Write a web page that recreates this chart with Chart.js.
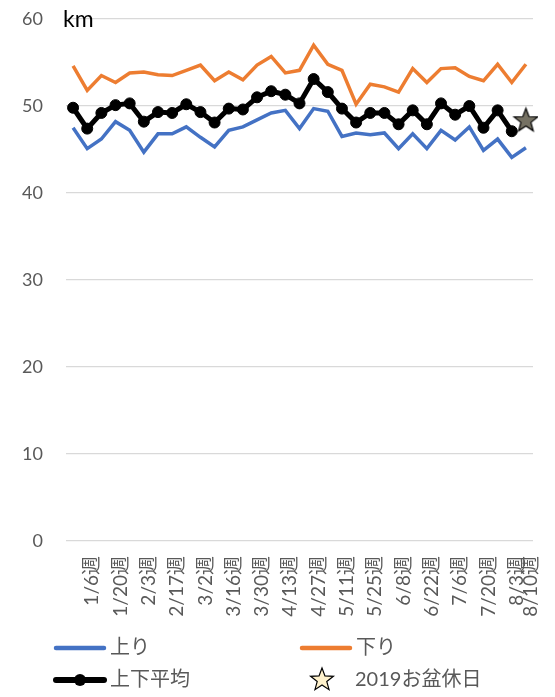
<!DOCTYPE html>
<html lang="ja">
<head>
<meta charset="UTF-8">
<title>週別 平均走行距離</title>
<script src="https://cdn.jsdelivr.net/npm/chart.js"></script>
<style>
  html, body { margin: 0; padding: 0; background: #fff; }
  .chart-box { width: 555px; height: 697px; position: relative; }
</style>
</head>
<body>
<div class="chart-box"><canvas id="weeklyChart"></canvas></div>
<script>
// categories (weeks)
const weekLabels = [
  '12/30週', '1/6週', '1/13週', '1/20週', '1/27週', '2/3週', '2/10週', '2/17週', '2/24週',
  '3/2週', '3/9週', '3/16週', '3/23週', '3/30週', '4/6週', '4/13週', '4/20週', '4/27週',
  '5/4週', '5/11週', '5/18週', '5/25週', '6/1週', '6/8週', '6/15週', '6/22週', '6/29週',
  '7/6週', '7/13週', '7/20週', '7/27週', '8/3週', '8/10週'
];

// 上り
const upValues = [
  47.5, 45.1, 46.2, 48.2, 47.2, 44.7, 46.8, 46.8, 47.6, 46.4, 45.3,
  47.2, 47.6, 48.4, 49.2, 49.5, 47.4, 49.7, 49.4, 46.5, 46.9, 46.7,
  46.9, 45.1, 46.8, 45.1, 47.2, 46.1, 47.6, 44.9, 46.2, 44.1, 45.2
];

// 下り
const downValues = [
  54.6, 51.8, 53.5, 52.7, 53.8, 53.9, 53.6, 53.5, 54.1, 54.7, 52.9,
  53.9, 53.0, 54.7, 55.7, 53.8, 54.1, 57.0, 54.8, 54.1, 50.2, 52.5,
  52.2, 51.6, 54.3, 52.7, 54.3, 54.4, 53.4, 52.9, 54.8, 52.7, 54.8
];

// 上下平均 (up to 8/3週)
const avgValues = [
  49.8, 47.4, 49.2, 50.1, 50.3, 48.2, 49.3, 49.2, 50.2, 49.3, 48.1,
  49.7, 49.6, 51.0, 51.7, 51.3, 50.3, 53.1, 51.6, 49.7, 48.1, 49.2,
  49.2, 47.9, 49.5, 47.9, 50.3, 49.0, 50.0, 47.5, 49.5, 47.1
];

// 2019お盆休日
const obonWeek = '8/10週';
const obonValue = 48.3;

const yTicks = [0, 10, 20, 30, 40, 50, 60];

const FONT = "Lato, 'Noto Sans CJK JP', sans-serif";

// filled 5-point star used as point style
function makeStar(r, fill) {
  const c = document.createElement('canvas');
  const s = Math.ceil(r * 2 + 4);
  c.width = s; c.height = s;
  const ctx = c.getContext('2d');
  ctx.beginPath();
  for (let i = 0; i < 10; i++) {
    const rad = i % 2 === 0 ? r : r * 0.42;
    const a = -Math.PI / 2 + i * Math.PI / 5;
    const px = s / 2 + rad * Math.cos(a);
    const py = s / 2 + rad * Math.sin(a);
    if (i === 0) ctx.moveTo(px, py); else ctx.lineTo(px, py);
  }
  ctx.closePath();
  ctx.fillStyle = fill;
  ctx.fill();
  ctx.lineWidth = 1.2;
  ctx.strokeStyle = '#000';
  ctx.stroke();
  return c;
}

const plotStar = makeStar(12.5, '#757163');
const legendStar = makeStar(12, '#fff2cc');

// "km" unit label + two-column legend at the bottom
const extrasPlugin = {
  id: 'extras',
  afterDraw(chart) {
    const ctx = chart.ctx;
    const area = chart.chartArea;
    ctx.save();
    ctx.font = '23px ' + FONT;
    ctx.fillStyle = '#000';
    ctx.textBaseline = 'middle';
    ctx.textAlign = 'left';
    ctx.fillText('km', area.left - 3, area.top + 1);

    const items = [
      { ds: 0, x: 54, y: 648 },
      { ds: 1, x: 300, y: 648 },
      { ds: 2, x: 54, y: 680 },
      { ds: 3, x: 308, y: 680 }
    ];
    ctx.font = '20px ' + FONT;
    items.forEach(it => {
      const ds = chart.data.datasets[it.ds];
      if (it.ds === 3) {
        ctx.drawImage(legendStar, it.x, it.y - legendStar.height / 2);
        ctx.fillStyle = '#595959';
        ctx.fillText(ds.label, it.x + 47, it.y);
        return;
      }
      ctx.beginPath();
      ctx.lineCap = 'round';
      ctx.lineWidth = ds.borderWidth + 1;
      ctx.strokeStyle = ds.borderColor;
      ctx.moveTo(it.x + 2, it.y);
      ctx.lineTo(it.x + 50, it.y);
      ctx.stroke();
      if (ds.pointRadius > 0) {
        ctx.beginPath();
        ctx.fillStyle = ds.pointBackgroundColor;
        ctx.arc(it.x + 26, it.y, ds.pointRadius + 0.5, 0, Math.PI * 2);
        ctx.fill();
      }
      ctx.fillStyle = '#595959';
      ctx.fillText(ds.label, it.x + 56, it.y);
    });
    ctx.restore();
  }
};

new Chart(document.getElementById('weeklyChart'), {
  type: 'line',
  data: {
    labels: weekLabels,
    datasets: [
      {
        label: '上り',
        data: upValues,
        borderColor: '#4472c4',
        borderWidth: 3.5,
        pointRadius: 0,
        tension: 0
      },
      {
        label: '下り',
        data: downValues,
        borderColor: '#ed7d31',
        borderWidth: 3.5,
        pointRadius: 0,
        tension: 0
      },
      {
        label: '上下平均',
        data: avgValues,
        borderColor: '#000',
        borderWidth: 5,
        pointRadius: 5.5,
        pointBorderWidth: 1,
        pointBackgroundColor: '#000',
        pointBorderColor: '#000',
        tension: 0
      },
      {
        label: '2019お盆休日',
        data: [{ x: obonWeek, y: obonValue }],
        showLine: false,
        pointStyle: plotStar,
        borderColor: '#000'
      }
    ]
  },
  options: {
    responsive: true,
    maintainAspectRatio: false,
    animation: false,
    layout: { padding: { top: 19, right: 22, bottom: 72, left: 0 } },
    plugins: {
      legend: { display: false },
      tooltip: { enabled: false }
    },
    scales: {
      x: {
        offset: true,
        afterFit(scale) {
          scale.height = 84;
          scale.paddingLeft = 0;
          scale.paddingRight = 0;
        },
        grid: { display: false, drawTicks: false },
        border: { display: false },
        ticks: {
          autoSkip: false,
          maxRotation: 90,
          minRotation: 90,
          padding: 15,
          labelOffset: 5,
          color: '#595959',
          font: { family: FONT, size: 19 },
          callback(value, index) {
            return (index % 2 === 1 || index === weekLabels.length - 1) ? weekLabels[index] : '';
          }
        }
      },
      y: {
        min: yTicks[0],
        max: yTicks[yTicks.length - 1],
        afterFit(scale) {
          scale.width = 66;
          // tick padding should not push the plot area down
          scale.paddingTop = 0;
          scale.paddingBottom = 0;
        },
        afterBuildTicks(scale) { scale.ticks = yTicks.map(v => ({ value: v })); },
        grid: { color: '#d9d9d9', lineWidth: 1.3, drawTicks: false },
        border: { display: false },
        ticks: {
          padding: 23,
          color: '#595959',
          font: { family: FONT, size: 18 }
        }
      }
    }
  },
  plugins: [extrasPlugin]
});
</script>
</body>
</html>
